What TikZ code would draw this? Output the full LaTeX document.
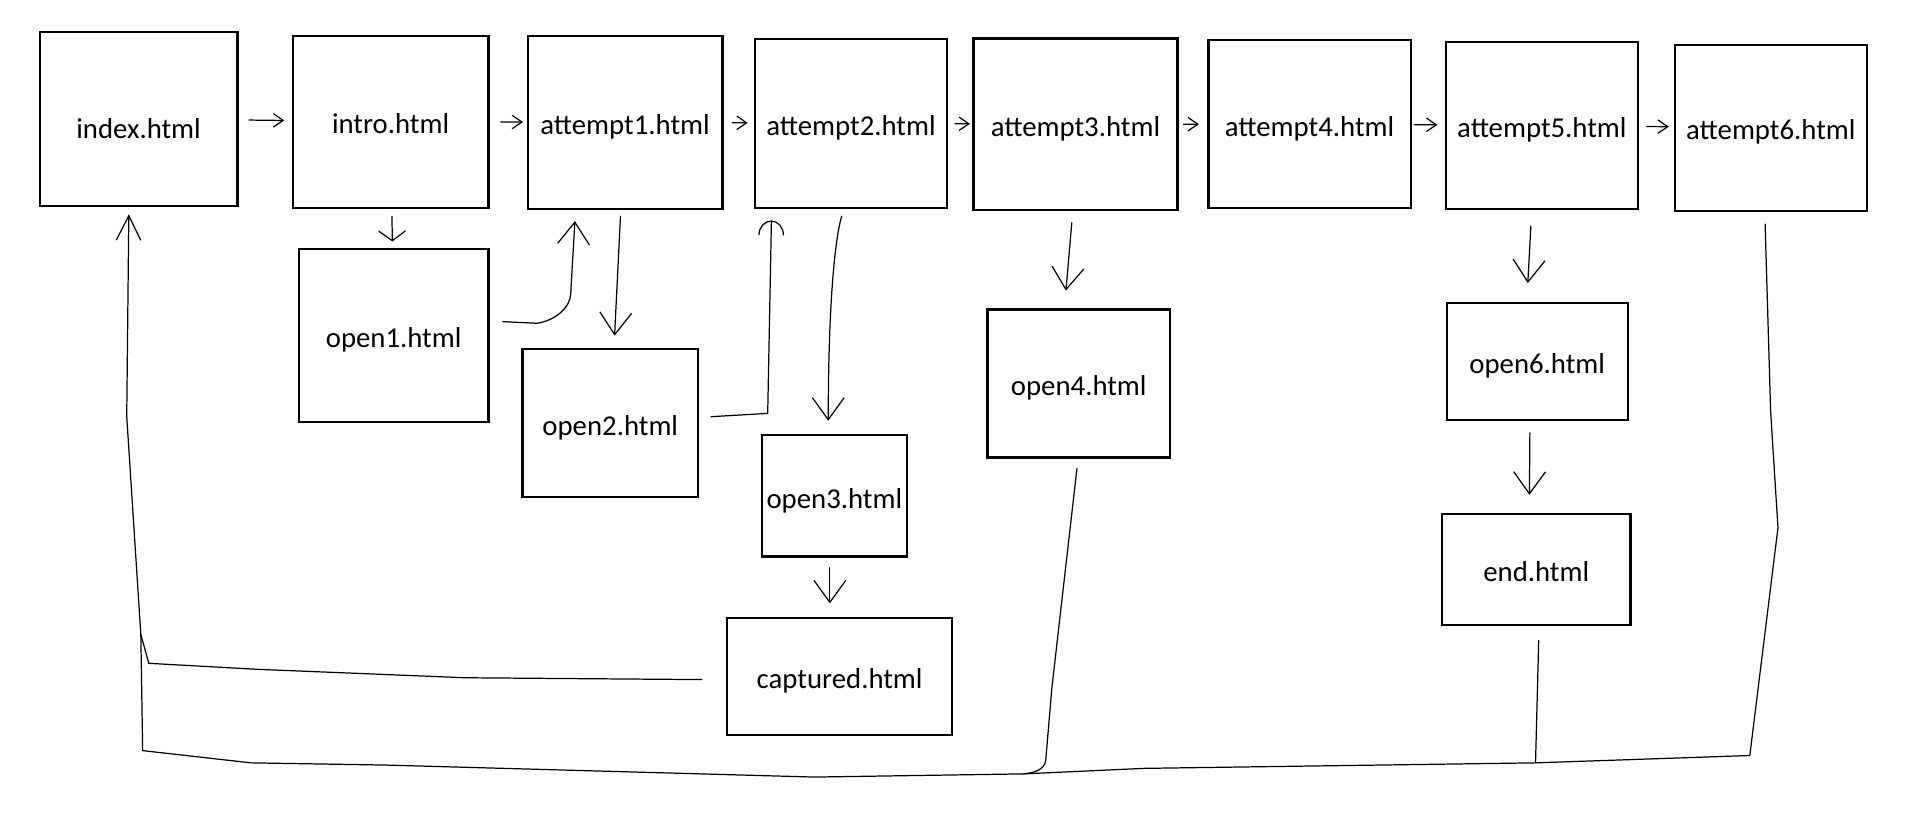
\documentclass[tikz,border=0pt]{standalone}
\usepackage{fontspec}
\setmainfont{Carlito}
\usetikzlibrary{arrows.meta,calc}
\tikzset{
  page/.style={draw, line width=1.8pt, inner sep=0pt, text height=20pt, text depth=0pt, font=\fontsize{23.5}{28}\selectfont},
  link/.style={line width=1pt, line cap=round, line join=round},
  nextarr/.style={link, -{Straight Barb[length=8pt,width=11pt]}},
  stubarr/.style={link, -{Straight Barb[length=8pt,width=22pt]}},
  openarr/.style={link, -{Straight Barb[length=18pt,width=26pt]}},
  backarr/.style={link, -{Straight Barb[length=20pt,width=20pt]}},
  hookarr/.style={link, -{Arc Barb[length=12pt,width=21pt]}}
}
\begin{document}
\begin{tikzpicture}[x=1pt,y=-1pt]
\useasboundingbox (0,0) rectangle (1568,671);
\node[page, minimum width=161.5pt, minimum height=142.3pt, text height=32pt] (index) at (113.2,97) {index.html};
\node[page, minimum width=160pt, minimum height=140.5pt] (intro) at (319,99.4) {intro.html};
\node[page, minimum width=159pt, minimum height=141.6pt] (att1) at (510.5,99.9) {attempt1.html};
\node[page, minimum width=157pt, minimum height=137.8pt] (att2) at (695,100.7) {attempt2.html};
\node[page, minimum width=166.6pt, minimum height=140pt] (att3) at (878.3,101.5) {attempt3.html};
\node[page, minimum width=165pt, minimum height=137.2pt] (att4) at (1069.5,101.3) {attempt4.html};
\node[page, minimum width=157pt, minimum height=136.4pt] (att5) at (1259.2,102.5) {attempt5.html};
\node[page, minimum width=157pt, minimum height=135.5pt] (att6) at (1446.2,104.3) {attempt6.html};
\node[page, minimum width=155pt, minimum height=140.8pt] (open1) at (321.5,274) {open1.html};
\node[page, minimum width=143.5pt, minimum height=121pt] (open2) at (498.4,345.5) {open2.html};
\node[page, minimum width=118.5pt, minimum height=99pt] (open3) at (681.4,405) {open3.html};
\node[page, minimum width=184pt, minimum height=96pt] (captured) at (685.7,552.5) {captured.html};
\node[page, minimum width=149pt, minimum height=121pt] (open4) at (881,313.2) {open4.html};
\node[page, minimum width=147.6pt, minimum height=95.3pt] (open6) at (1255.4,295.4) {open6.html};
\node[page, minimum width=154pt, minimum height=90.6pt] (finish) at (1254.6,465.1) {end.html};

\draw[nextarr, shorten <=8.5pt, shorten >=6pt] (index) -- (intro);
\draw[nextarr, shorten <=9pt, shorten >=3pt] (intro) -- (att1);
\draw[nextarr, shorten <=7pt, shorten >=5pt] (att1) -- (att2);
\draw[nextarr, shorten <=5.5pt, shorten >=2pt] (att2) -- (att3);
\draw[nextarr, shorten <=4pt, shorten >=7pt] (att3) -- (att4);
\draw[nextarr, shorten <=2pt, shorten >=6pt] (att4) -- (att5);
\draw[nextarr, shorten <=6pt, shorten >=4pt] (att5) -- (att6);

\draw[stubarr, shorten <=6pt, shorten >=5.5pt] (intro) -- (open1);
\draw[openarr, shorten <=5pt, shorten >=10pt] (att1) -- (open2);
\draw[openarr] ($(att2.south)+(-7.6,6)$) .. controls +(-6,20) and +(0,-90) .. ($(open3.north)+(-5,-11)$);
\draw[openarr] ($(open3.south)+(-3.7,8.2)$) -- ($(captured.north)+(-8,-10.8)$);
\draw[openarr] ($(att3.south)+(-3,9.5)$) -- ($(open4.north)+(-10.5,-14.5)$);
\draw[openarr] ($(att5.south)+(-9,13)$) -- ($(open6.north)+(-7.7,-15.7)$);
\draw[openarr] ($(open6.south)+(-6,9.5)$) -- ($(finish.north)+(-5.6,-14.8)$);

\draw[openarr] ($(open1.east)+(10.7,-11.3)$) -- ++(28,1.3) .. controls +(14,-2) and +(0,12) .. ++(27.5,-24.5) -- ($(att1.south)+(-41,9)$);
\draw[hookarr] ($(open2.east)+(9.7,-5.2)$) -- ++(46.2,-2.7) -- ($(att2.south)+(-65,9.5)$);

\coordinate (cl) at (121.5,541.7);
\coordinate (jl) at (115,518);
\coordinate (bl) at (116.5,613);
\coordinate (br) at (1429,617);
\coordinate (ej) at (1254,623);
\coordinate (b4) at (836,632);
\draw[backarr] ($(captured.west)+(-19.6,2.5)$) -- (380,553.5) -- (210,546.6) -- (cl) -- (jl) -- (103.5,340) -- ($(index.south)+(-8,6)$);
\draw[link] ($(att6.south)+(-4.7,10)$) -- (1446,336) -- (1452,431) -- (br) -- (ej) -- (934,627.5) -- (b4) -- (665,634.6) -- (315,624.8) -- (205,623) -- (bl) -- (jl);
\draw[link] ($(open4.south)+(-1.5,8)$) -- (859,562) -- (854,621) .. controls (853,628) and (846,631) .. (b4);
\draw[link] ($(finish.south)+(2,11.7)$) -- (ej);
\end{tikzpicture}
\end{document}
